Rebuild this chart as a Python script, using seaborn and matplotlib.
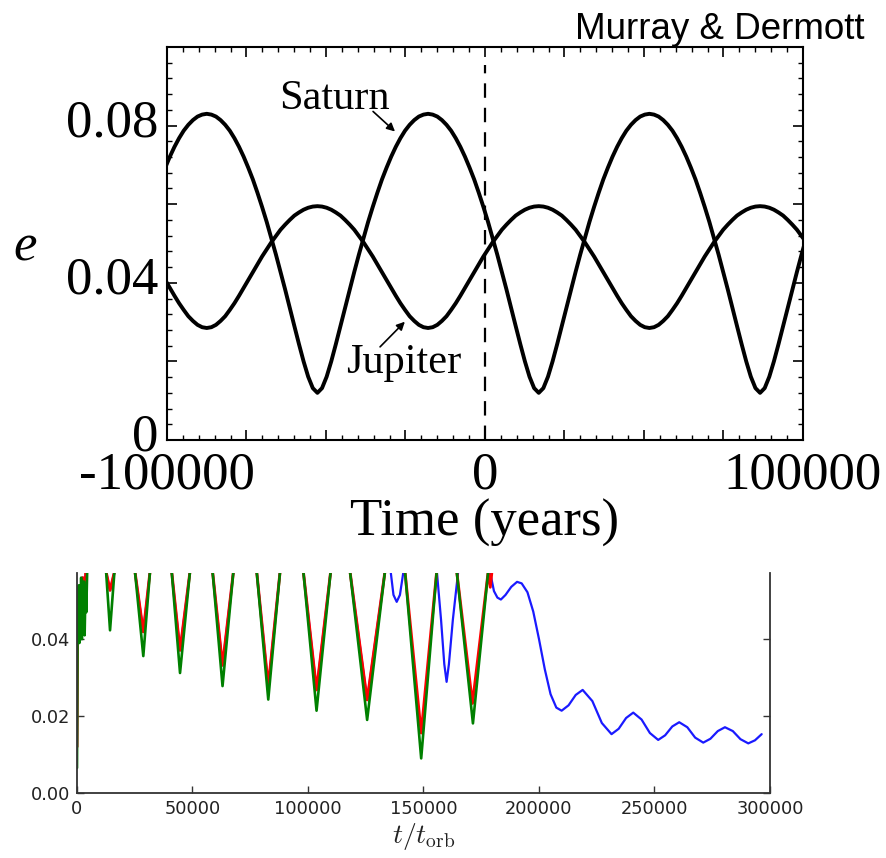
import matplotlib
matplotlib.use("Agg")
import matplotlib.pyplot as plt
from matplotlib.ticker import MultipleLocator, FixedLocator
from matplotlib.transforms import ScaledTranslation
import seaborn as sns

# ---------------- top panel data (Murray & Dermott) ----------------
top_time = [-100550, -99100, -97650, -96200, -94750, -93300, -91850, -90400, -88950, -87500,
            -86050, -84600, -83150, -81700, -80250, -78800, -77350, -75900, -74450, -73000,
            -71550, -70100, -68650, -67200, -65750, -64300, -62850, -61400, -59950, -58500,
            -57050, -55600, -54150, -52700, -51250, -49800, -48350, -46900, -45450, -44000,
            -42550, -41100, -39650, -38200, -36750, -35300, -33850, -32400, -30950, -29500,
            -28050, -26600, -25150, -23700, -22250, -20800, -19350, -17900, -16450, -15000,
            -13550, -12100, -10650, -9200, -7750, -6300, -4850, -3400, -1950, -500,
            950, 2400, 3850, 5300, 6750, 8200, 9650, 11100, 12550, 14000,
            15450, 16900, 18350, 19800, 21250, 22700, 24150, 25600, 27050, 28500,
            29950, 31400, 32850, 34300, 35750, 37200, 38650, 40100, 41550, 43000,
            44450, 45900, 47350, 48800, 50250, 51700, 53150, 54600, 56050, 57500,
            58950, 60400, 61850, 63300, 64750, 66200, 67650, 69100, 70550, 72000,
            73450, 74900, 76350, 77800, 79250, 80700, 82150, 83600, 85050, 86500,
            87950, 89400, 90850, 92300, 93750, 95200, 96650, 98100, 99550, 101000]

saturn_e = [0.0693, 0.0721, 0.0746, 0.0768, 0.0787, 0.0802, 0.0814, 0.0823, 0.0828, 0.0830,
            0.0828, 0.0823, 0.0814, 0.0802, 0.0787, 0.0768, 0.0746, 0.0721, 0.0693, 0.0663,
            0.0629, 0.0593, 0.0555, 0.0514, 0.0472, 0.0428, 0.0383, 0.0336, 0.0290, 0.0244,
            0.0200, 0.0161, 0.0132, 0.0120,
            0.0132, 0.0161, 0.0200, 0.0244, 0.0290, 0.0336, 0.0383, 0.0428, 0.0472, 0.0514,
            0.0555, 0.0593, 0.0629, 0.0663, 0.0693, 0.0721, 0.0746, 0.0768, 0.0787, 0.0802,
            0.0814, 0.0823, 0.0828, 0.0830,
            0.0828, 0.0823, 0.0814, 0.0802, 0.0787, 0.0768, 0.0746, 0.0721, 0.0693, 0.0663,
            0.0629, 0.0593, 0.0555, 0.0514, 0.0472, 0.0428, 0.0383, 0.0336, 0.0290, 0.0244,
            0.0200, 0.0161, 0.0132, 0.0120,
            0.0132, 0.0161, 0.0200, 0.0244, 0.0290, 0.0336, 0.0383, 0.0428, 0.0472, 0.0514,
            0.0555, 0.0593, 0.0629, 0.0663, 0.0693, 0.0721, 0.0746, 0.0768, 0.0787, 0.0802,
            0.0814, 0.0823, 0.0828, 0.0830,
            0.0828, 0.0823, 0.0814, 0.0802, 0.0787, 0.0768, 0.0746, 0.0721, 0.0693, 0.0663,
            0.0629, 0.0593, 0.0555, 0.0514, 0.0472, 0.0428, 0.0383, 0.0336, 0.0290, 0.0244,
            0.0200, 0.0161, 0.0132, 0.0120,
            0.0132, 0.0161, 0.0200, 0.0244, 0.0290, 0.0336, 0.0383, 0.0428, 0.0472, 0.0514]

jupiter_e = [0.0407, 0.0387, 0.0367, 0.0348, 0.0331, 0.0315, 0.0303, 0.0293, 0.0287, 0.0285,
             0.0287, 0.0293, 0.0303, 0.0315, 0.0331, 0.0348, 0.0367, 0.0387, 0.0407, 0.0427,
             0.0447, 0.0467, 0.0485, 0.0503, 0.0519, 0.0535, 0.0548, 0.0560, 0.0571, 0.0579,
             0.0586, 0.0591, 0.0594, 0.0595,
             0.0594, 0.0591, 0.0586, 0.0579, 0.0571, 0.0560, 0.0548, 0.0535, 0.0519, 0.0503,
             0.0485, 0.0467, 0.0447, 0.0427, 0.0407, 0.0387, 0.0367, 0.0348, 0.0331, 0.0315,
             0.0303, 0.0293, 0.0287, 0.0285,
             0.0287, 0.0293, 0.0303, 0.0315, 0.0331, 0.0348, 0.0367, 0.0387, 0.0407, 0.0427,
             0.0447, 0.0467, 0.0485, 0.0503, 0.0519, 0.0535, 0.0548, 0.0560, 0.0571, 0.0579,
             0.0586, 0.0591, 0.0594, 0.0595,
             0.0594, 0.0591, 0.0586, 0.0579, 0.0571, 0.0560, 0.0548, 0.0535, 0.0519, 0.0503,
             0.0485, 0.0467, 0.0447, 0.0427, 0.0407, 0.0387, 0.0367, 0.0348, 0.0331, 0.0315,
             0.0303, 0.0293, 0.0287, 0.0285,
             0.0287, 0.0293, 0.0303, 0.0315, 0.0331, 0.0348, 0.0367, 0.0387, 0.0407, 0.0427,
             0.0447, 0.0467, 0.0485, 0.0503, 0.0519, 0.0535, 0.0548, 0.0560, 0.0571, 0.0579,
             0.0586, 0.0591, 0.0594, 0.0595,
             0.0594, 0.0591, 0.0586, 0.0579, 0.0571, 0.0560, 0.0548, 0.0535, 0.0519, 0.0503]

top_xticks = [-100000, -75000, -50000, -25000, 0, 25000, 50000, 75000, 100000]
top_xlabels = ["-100000", "", "", "", "0", "", "", "", "100000"]
top_yticks = [0.0, 0.02, 0.04, 0.06, 0.08, 0.10]
top_ylabels = ["0", "", "0.04", "", "0.08", ""]

# ---------------- bottom panel data ----------------
green_t = [0, 150, 300, 550, 800, 1050, 1300, 1550, 1800, 2100, 2400, 2700, 3000, 3300, 3700, 4000, 4400, 8500,
           12600, 14300, 16200, 20600,
           25100, 28700, 31600, 36300,
           41000, 44600, 48900, 53800,
           58700, 63000, 67700, 72700,
           77800, 82800, 87900, 93000,
           98000, 103700, 109800, 114000,
           118200, 125600, 133300, 137600,
           142000, 149000, 155700, 160000,
           164400, 171400, 178000]
green_e = [0.0065, 0.030, 0.047, 0.040, 0.054, 0.039, 0.052, 0.041, 0.056, 0.040, 0.053, 0.042, 0.055, 0.041,
           0.054, 0.047, 0.0575, 0.075,
           0.0575, 0.0423, 0.0575, 0.075,
           0.0575, 0.0356, 0.0575, 0.075,
           0.0575, 0.0312, 0.0575, 0.075,
           0.0575, 0.0278, 0.0575, 0.075,
           0.0575, 0.0243, 0.0575, 0.075,
           0.0575, 0.0214, 0.0575, 0.075,
           0.0575, 0.0190, 0.0575, 0.075,
           0.0575, 0.0090, 0.0575, 0.075,
           0.0575, 0.0181, 0.0575]

red_t = [0, 200, 500, 900, 1400, 1900, 2500, 3100, 3800, 8500,
         12600, 14300, 16200, 20600,
         25100, 28700, 31600, 36300,
         41000, 44600, 48900, 53800,
         58700, 63000, 67700, 72700,
         77800, 82800, 87900, 93000,
         98000, 103700, 109800, 114000,
         118200, 125600, 133300, 137600,
         142000, 149000, 155700, 160000,
         164400, 171200, 178000, 178900, 179600]
red_e = [0.012, 0.040, 0.050, 0.046, 0.054, 0.048, 0.056, 0.050, 0.0575, 0.075,
         0.0575, 0.0527, 0.0575, 0.075,
         0.0575, 0.0419, 0.0575, 0.075,
         0.0575, 0.0371, 0.0575, 0.075,
         0.0575, 0.0332, 0.0575, 0.075,
         0.0575, 0.0278, 0.0575, 0.075,
         0.0575, 0.0268, 0.0575, 0.075,
         0.0575, 0.0242, 0.0575, 0.075,
         0.0575, 0.0156, 0.0575, 0.075,
         0.0575, 0.0233, 0.0575, 0.0535, 0.0575]

blue_t = [0, 200, 500, 900, 1400, 1900, 2500, 3100, 3800, 8500,
          12600, 14300, 16200, 20600,
          25100, 28700, 31600, 36300,
          41000, 44600, 48900, 53800,
          58700, 63000, 67700, 72700,
          77800, 82800, 87900, 93000,
          98000, 103700, 109800, 114000,
          118200, 125600, 133300, 134500,
          135800, 137000, 138400, 139800, 141300, 148000,
          155800, 157600, 159000, 160000, 161000, 162700, 165000, 172000,
          178800, 180500, 182000, 183500, 185500, 188000, 190500, 192500, 195000, 197500,
          200000, 202500, 205000, 207500, 209800, 212800, 215900, 218900, 223100, 227200,
          231400, 234500, 237700, 240800, 244400, 248000, 251600, 254600, 257700, 260700,
          264200, 267600, 271100, 274200, 277400, 280500, 283900, 287200, 290600, 293500,
          296400]
blue_e = [0.012, 0.040, 0.050, 0.046, 0.054, 0.048, 0.056, 0.050, 0.0575, 0.075,
          0.0575, 0.0527, 0.0575, 0.075,
          0.0575, 0.0419, 0.0575, 0.075,
          0.0575, 0.0371, 0.0575, 0.075,
          0.0575, 0.0332, 0.0575, 0.075,
          0.0575, 0.0278, 0.0575, 0.075,
          0.0575, 0.0268, 0.0575, 0.075,
          0.0575, 0.0242, 0.0575, 0.062,
          0.0575, 0.0515, 0.0497, 0.0515, 0.0575, 0.075,
          0.0575, 0.0450, 0.0335, 0.0289, 0.0335, 0.0450, 0.0575, 0.075,
          0.0575, 0.0525, 0.0508, 0.0503, 0.0515, 0.0536, 0.0549, 0.0545, 0.0522, 0.0472,
          0.0400, 0.0322, 0.0257, 0.0222, 0.0214, 0.0228, 0.0255, 0.0268, 0.0239, 0.0182,
          0.0153, 0.0167, 0.0195, 0.0209, 0.0191, 0.0156, 0.0138, 0.0150, 0.0173, 0.0184,
          0.0171, 0.0144, 0.0131, 0.0141, 0.0161, 0.0171, 0.0161, 0.0140, 0.0129, 0.0137,
          0.0153]

bot_xticks = [0, 50000, 100000, 150000, 200000, 250000, 300000]
bot_xlabels = ["0", "50000", "100000", "150000", "200000", "250000", "300000"]
bot_yticks = [0.0, 0.02, 0.04]
bot_ylabels = ["0.00", "0.02", "0.04"]

# ---------------- figure ----------------
sns.set_theme(style="white")
plt.rcParams["mathtext.fontset"] = "cm"
plt.rcParams["font.family"] = ["DejaVu Sans"]
plt.rcParams["text.color"] = "black"

W, H = 887, 858
fig = plt.figure(figsize=(W / 100, H / 100), dpi=100)
fig.patch.set_facecolor("white")

serif = ["Liberation Serif", "DejaVu Serif"]

# top axes
ax1 = fig.add_axes([167 / W, 1 - 440 / H, 636 / W, 393 / H])
sns.lineplot(x=top_time, y=saturn_e, ax=ax1, color="black", lw=2.8,
             estimator=None, sort=False)
sns.lineplot(x=top_time, y=jupiter_e, ax=ax1, color="black", lw=2.8,
             estimator=None, sort=False)
ax1.axvline(0, ymin=0, ymax=0.954, color="black", lw=1.6, dashes=(6.5, 4.5))
ax1.set_xlim(-100000, 100000)
ax1.set_ylim(0, 0.1)
ax1.xaxis.set_major_locator(FixedLocator(top_xticks))
ax1.set_xticklabels(top_xlabels, fontsize=38, family=serif, color="black")
ax1.xaxis.set_minor_locator(MultipleLocator(5000))
ax1.yaxis.set_major_locator(FixedLocator(top_yticks))
ax1.set_yticklabels(top_ylabels, fontsize=38, family=serif, color="black")
ax1.yaxis.set_minor_locator(MultipleLocator(0.004))
for sp in ax1.spines.values():
    sp.set_visible(True)
    sp.set_color("black")
    sp.set_linewidth(1.5)
ax1.tick_params(which="both", direction="in", top=True, right=True, bottom=True, left=True,
                colors="black")
ax1.tick_params(which="major", length=7, width=1.2, pad=6)
ax1.tick_params(axis="x", which="major", pad=8)
ax1.tick_params(which="minor", length=3.5, width=1.0)
# y tick labels sit a few pixels above their ticks in the reference
shift = ScaledTranslation(0, 8 / 100, fig.dpi_scale_trans)
for lab in ax1.get_yticklabels():
    lab.set_transform(lab.get_transform() + shift)
ax1.set_xlabel("Time (years)", fontsize=38, family=serif, labelpad=0, color="black")
ax1.set_ylabel("e", fontsize=38, family=serif, fontstyle="italic", rotation=0,
               ha="center", va="center", color="black")
ax1.yaxis.set_label_coords(-0.223, 0.49)

ax1.annotate("", xy=(-28300, 0.0785), xytext=(-35200, 0.0836),
             arrowprops=dict(arrowstyle="-|>", color="black", lw=1.2, mutation_scale=12,
                             shrinkA=0, shrinkB=0))
ax1.text(-47200, 0.0841, "Saturn", ha="center", va="baseline", fontsize=30.5,
         family=serif, color="black")
ax1.annotate("", xy=(-25200, 0.0301), xytext=(-33000, 0.0237),
             arrowprops=dict(arrowstyle="-|>", color="black", lw=1.2, mutation_scale=12,
                             shrinkA=0, shrinkB=0))
ax1.text(-25500, 0.0171, "Jupiter", ha="center", va="baseline", fontsize=30.5,
         family=serif, color="black")

fig.text(865 / W, 1 - 39 / H, "Murray & Dermott", ha="right", va="baseline",
         fontsize=26.5, family=["Liberation Sans", "DejaVu Sans"], color="black")

# bottom axes
ax2 = fig.add_axes([77 / W, 1 - 793 / H, 693 / W, 220 / H])
sns.lineplot(x=blue_t, y=blue_e, ax=ax2, color="#1a1aff", lw=1.6, estimator=None, sort=False)
sns.lineplot(x=red_t, y=red_e, ax=ax2, color="#ff0000", lw=2.1, estimator=None, sort=False)
sns.lineplot(x=green_t, y=green_e, ax=ax2, color="#008000", lw=1.9, estimator=None, sort=False)
ax2.set_xlim(0, 300000)
ax2.set_ylim(0, 0.0572)
ax2.xaxis.set_major_locator(FixedLocator(bot_xticks))
ax2.set_xticklabels(bot_xlabels, fontsize=12.8, color="#222222")
ax2.yaxis.set_major_locator(FixedLocator(bot_yticks))
ax2.set_yticklabels(bot_ylabels, fontsize=12.8, color="#222222")
ax2.spines["top"].set_visible(False)
for s in ["left", "bottom", "right"]:
    ax2.spines[s].set_visible(True)
    ax2.spines[s].set_color("#333333")
    ax2.spines[s].set_linewidth(1.3)
ax2.tick_params(which="major", direction="in", left=True, bottom=True, right=True, top=False,
                length=5, width=1.0, color="#333333", pad=5)
ax2.set_xlabel(r"$t/t_{\rm orb}$", fontsize=20, color="#222222", labelpad=2)
ax2.set_ylabel("")

fig.savefig("out.png", dpi=100, facecolor="white")
